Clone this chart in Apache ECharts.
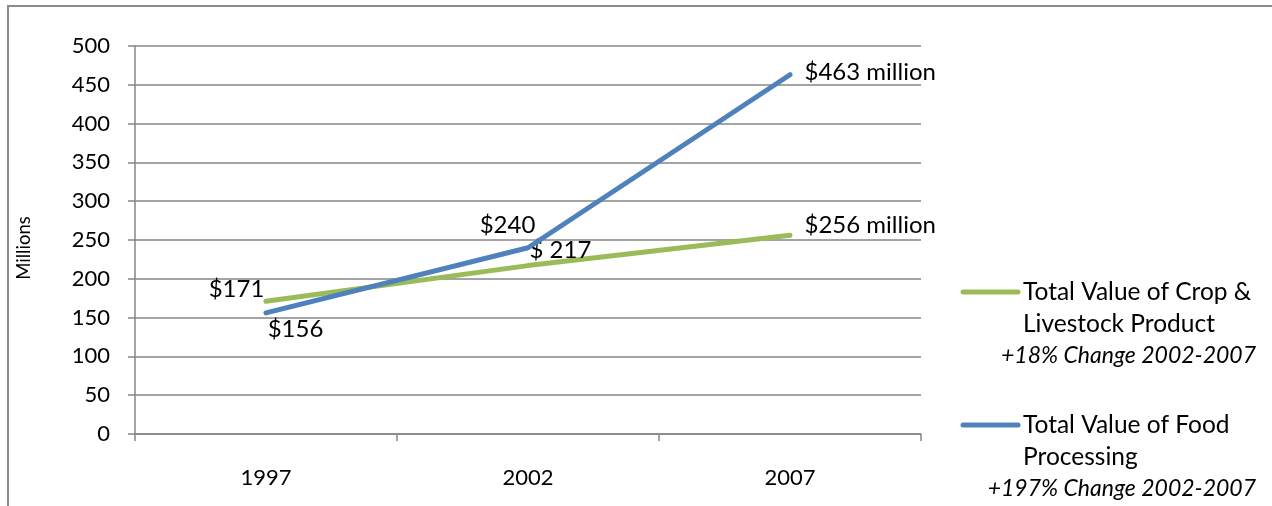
<!DOCTYPE html>
<html>
<head>
<meta charset="utf-8">
<script src="https://cdn.jsdelivr.net/npm/echarts@6/dist/echarts.min.js"></script>
<style>
  html, body { margin: 0; padding: 0; background: #fff; }
  #chart { width: 1272px; height: 506px; }
</style>
</head>
<body>
<div id="chart"></div>
<script>
// Census years on the category axis
var years = ['1997', '2002', '2007'];
// Values in millions of dollars
var cropLivestock = [171, 217, 256];
var foodProcessing = [156, 240, 463];
// Value labels shown beside each point
var cropLabels = ['$171', '$ 217', '$256 million'];
var foodLabels = ['$156', '$240', '$463 million'];
// Legend entries
var seriesNames = ['Total Value of Crop & Livestock Product', 'Total Value of Food Processing'];
var legendLines = [
  ['Total Value of Crop &', 'Livestock Product', '+18% Change 2002-2007'],
  ['Total Value of Food', 'Processing', '+197% Change 2002-2007']
];

var GREEN = '#9BBB59';
var BLUE = '#4F81BD';
var GRID = '#868686';
var FONT = 'Lato, "Open Sans", sans-serif';

// label placement per point: [align, offsetX, offsetY]
var cropPlace = [['center', -29, -12], ['left', 2, -15], ['left', 15, -10]];
var foodPlace = [['center', 30, 17], ['center', -20, -22], ['left', 15, -2]];

function points(values, labels, place) {
  return values.map(function (v, i) {
    return {
      value: v,
      label: {
        show: true,
        formatter: labels[i],
        position: [0, 0],
        align: place[i][0],
        verticalAlign: 'middle',
        offset: [place[i][1], place[i][2]],
        color: '#000',
        fontSize: 24,
        fontFamily: FONT
      }
    };
  });
}

var chart = echarts.init(document.getElementById('chart'), null, { renderer: 'canvas' });

var legendGraphics = [];
[GREEN, BLUE].forEach(function (c, k) {
  var y0 = k === 0 ? 292 : 425;
  legendGraphics.push({
    type: 'line', shape: { x1: 963, y1: y0, x2: 1018, y2: y0 },
    style: { stroke: c, lineWidth: 5, lineCap: 'round' }
  });
  legendGraphics.push({
    type: 'text', x: 1023, y: y0,
    style: { text: legendLines[k][0], font: '24.5px ' + FONT, fill: '#000', textAlign: 'left', textVerticalAlign: 'middle' }
  });
  legendGraphics.push({
    type: 'text', x: 1023, y: y0 + 32,
    style: { text: legendLines[k][1], font: '24.5px ' + FONT, fill: '#000', textAlign: 'left', textVerticalAlign: 'middle' }
  });
  legendGraphics.push({
    type: 'text', x: 1256, y: y0 + 64,
    style: { text: legendLines[k][2], font: 'italic 23px ' + FONT, fill: '#000', textAlign: 'right', textVerticalAlign: 'middle' }
  });
});

chart.setOption({
  animation: false,
  backgroundColor: '#fff',
  grid: { left: 135, right: 351, top: 46, bottom: 72 },
  xAxis: {
    type: 'category',
    data: years,
    boundaryGap: true,
    axisLine: { lineStyle: { color: GRID, width: 1.5 } },
    axisTick: { show: true, length: 7, lineStyle: { color: GRID, width: 1.5 } },
    axisLabel: { color: '#000', fontSize: 22, fontFamily: FONT, margin: 33 }
  },
  yAxis: {
    type: 'value',
    min: 0, max: 500, interval: 50,
    name: 'Millions',
    nameLocation: 'middle',
    nameGap: 101,
    nameRotate: 90,
    nameTextStyle: { color: '#000', fontSize: 18.5, fontFamily: FONT, padding: [0, 16, 0, 0] },
    axisLine: { show: true, lineStyle: { color: GRID, width: 1.5 } },
    axisTick: { show: true, length: 7, lineStyle: { color: GRID, width: 1.5 } },
    axisLabel: { color: '#000', fontSize: 22, fontFamily: FONT, margin: 25 },
    splitLine: { show: true, lineStyle: { color: GRID, width: 1.5 } }
  },
  series: [
    {
      name: seriesNames[0],
      type: 'line',
      data: points(cropLivestock, cropLabels, cropPlace),
      symbol: 'circle', symbolSize: 1,
      itemStyle: { color: 'rgba(0,0,0,0)' },
      lineStyle: { color: GREEN, width: 5, cap: 'round' },
      z: 2
    },
    {
      name: seriesNames[1],
      type: 'line',
      data: points(foodProcessing, foodLabels, foodPlace),
      symbol: 'circle', symbolSize: 1,
      itemStyle: { color: 'rgba(0,0,0,0)' },
      lineStyle: { color: BLUE, width: 5, cap: 'round' },
      z: 3
    }
  ],
  graphic: [
    {
      type: 'rect', shape: { x: 8, y: 6, width: 1400, height: 600 },
      style: { fill: null, stroke: '#8a8a8a', lineWidth: 2 }, z: -1
    }
  ].concat(legendGraphics)
});
</script>
</body>
</html>
